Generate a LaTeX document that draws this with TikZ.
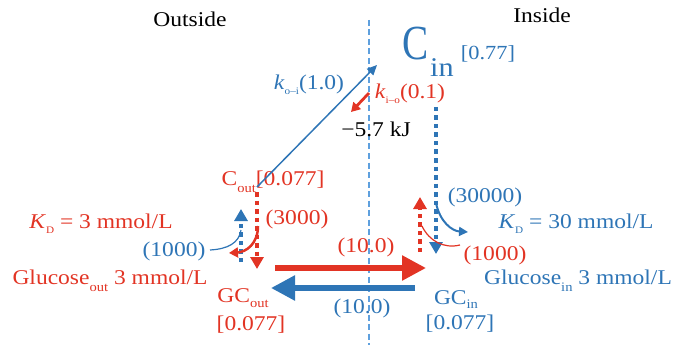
\documentclass[tikz,border=0pt]{standalone}
\usepackage{fontspec}
\setmainfont{Liberation Serif}[FakeStretch=1.12]
\newfontfamily\bigCfont{Liberation Serif}
\usetikzlibrary{arrows.meta}
\definecolor{myred}{RGB}{226,52,36}
\definecolor{myblue}{RGB}{46,117,182}
\definecolor{lightblue}{RGB}{95,160,222}
\newcommand\lowsub[2][-7pt]{\raisebox{#1}{\fontsize{13}{13}\selectfont #2}}
\newcommand\tinysub[2][-5pt]{\raisebox{#1}{\fontsize{10}{10}\selectfont #2}}
\tikzset{
  lbl/.style={inner sep=0pt, anchor=base, font=\fontsize{21}{21}\selectfont},
  redtxt/.style={lbl, text=myred},
  bluetxt/.style={lbl, text=myblue},
  dotline/.style={line width=4.5pt, dash pattern=on 4.5pt off 4pt},
  dtip/.style={-{Triangle[length=12pt,width=13pt]}},
  bigtip/.style={-{Triangle[length=24pt,width=24pt]}},
}
\begin{document}
\begin{tikzpicture}[x=1pt,y=-1pt]
\useasboundingbox (0,0) rectangle (681,345);

% membrane (behind everything)
\draw[lightblue, line width=1.1pt, dash pattern=on 6pt off 3.5pt] (369,20) -- (369,345);

% titles
\node[lbl] (outside) at (190,27) {Outside};
\node[lbl] (inside) at (542,23) {Inside};

% C_in
\node[inner sep=0pt, anchor=base, text=myblue] (cin) at (416,60) {\bigCfont\fontsize{49}{49}\selectfont\scalebox{0.8}[1]{C}};
\node[inner sep=0pt, anchor=base, text=myblue, font=\fontsize{27}{27}\selectfont] (cinsub) at (442,77) {in};
\node[bluetxt, font=\fontsize{20}{20}\selectfont] (cinval) at (488,60) {[0.77]};

% rate labels
\node[bluetxt] (koi) at (309,90) {\textit{k}\tinysub{o–i}(1.0)};
\node[redtxt] (kio) at (410,99) {\textit{k}\tinysub{i–o}(0.1)};
\node[lbl] (dg) at (376,137) {−5.7 kJ};

% outside species
\node[redtxt] (cout) at (273,185) {C\lowsub{out}[0.077]};
\node[redtxt] (l3000) at (297,224) {(3000)};
\node[redtxt] (kdout) at (101,228) {\textit{K}\tinysub{D} = 3 mmol/L};
\node[bluetxt] (l1000a) at (174,256) {(1000)};
\node[redtxt] (glout) at (110,284) {Glucose\lowsub{out} 3 mmol/L};
\node[redtxt] (gcout) at (243,302) {GC\lowsub[-5pt]{out}};
\node[redtxt] (gcoutv) at (251,330) {[0.077]};

% transport labels
\node[redtxt] (l10a) at (366,252) {(10.0)};
\node[bluetxt] (l10b) at (362,313) {(10.0)};

% inside species
\node[bluetxt] (l30000) at (485,202) {(30000)};
\node[bluetxt] (kdin) at (576,228) {\textit{K}\tinysub{D} = 30 mmol/L};
\node[redtxt] (l1000b) at (495,260) {(1000)};
\node[bluetxt] (glin) at (578,284) {Glucose\lowsub{in} 3 mmol/L};
\node[bluetxt] (gcin) at (456,304) {GC\lowsub[-4.5pt]{in}};
\node[bluetxt] (gcinv) at (460,329) {[0.077]};

% coordinates
\coordinate (coutR) at (257,187);
\coordinate (cinL) at (377,65);
\coordinate (kioA) at (369,93);
\coordinate (kioB) at (351,112);
\coordinate (lrTop) at (257,192);
\coordinate (lrBot) at (257,269);
\coordinate (lbBot) at (241,262);
\coordinate (lbTop) at (241,209);
\coordinate (rbTop) at (436,107);
\coordinate (rbBot) at (436,254);
\coordinate (rrBot) at (420,252);
\coordinate (rrTop) at (420,197);
\coordinate (redL) at (275,268);
\coordinate (redR) at (426,268);
\coordinate (blueR) at (415,288);
\coordinate (blueL) at (271,288);

% k arrows
\draw[myblue, line width=1.5pt, -{Triangle[length=10pt,width=9pt]}] (coutR) -- (cinL);
\draw[myred, line width=2.8pt, -{Triangle[length=9pt,width=10pt]}] (kioA) -- (kioB);

% vertical dotted arrows
\draw[myred, dotline, dtip] (lrTop) -- (lrBot);
\draw[myblue, dotline, dtip] (lbBot) -- (lbTop);
\draw[myblue, dotline, dtip] (rbTop) -- (rbBot);
\draw[myred, dotline, dtip] (rrBot) -- (rrTop);

% curved arrows
\draw[myred, line width=2.5pt, -{Triangle[length=9pt,width=10pt]}] (258,226) .. controls (258,244) and (246,252) .. (229,253);
\draw[myblue, line width=1.2pt] (210,250) .. controls (228,249) and (239,243) .. (241,230);
\draw[myblue, line width=2pt, -{Triangle[length=9pt,width=9pt]}] (436,203) .. controls (440,222) and (452,231) .. (468,232);
\draw[myred, line width=1.2pt] (460,245) .. controls (444,249) and (429,241) .. (422,226);

% horizontal transport arrows
\draw[myred, line width=5.5pt, bigtip] (redL) -- (redR);
\draw[myblue, line width=5.5pt, bigtip] (blueR) -- (blueL);
\end{tikzpicture}
\end{document}
